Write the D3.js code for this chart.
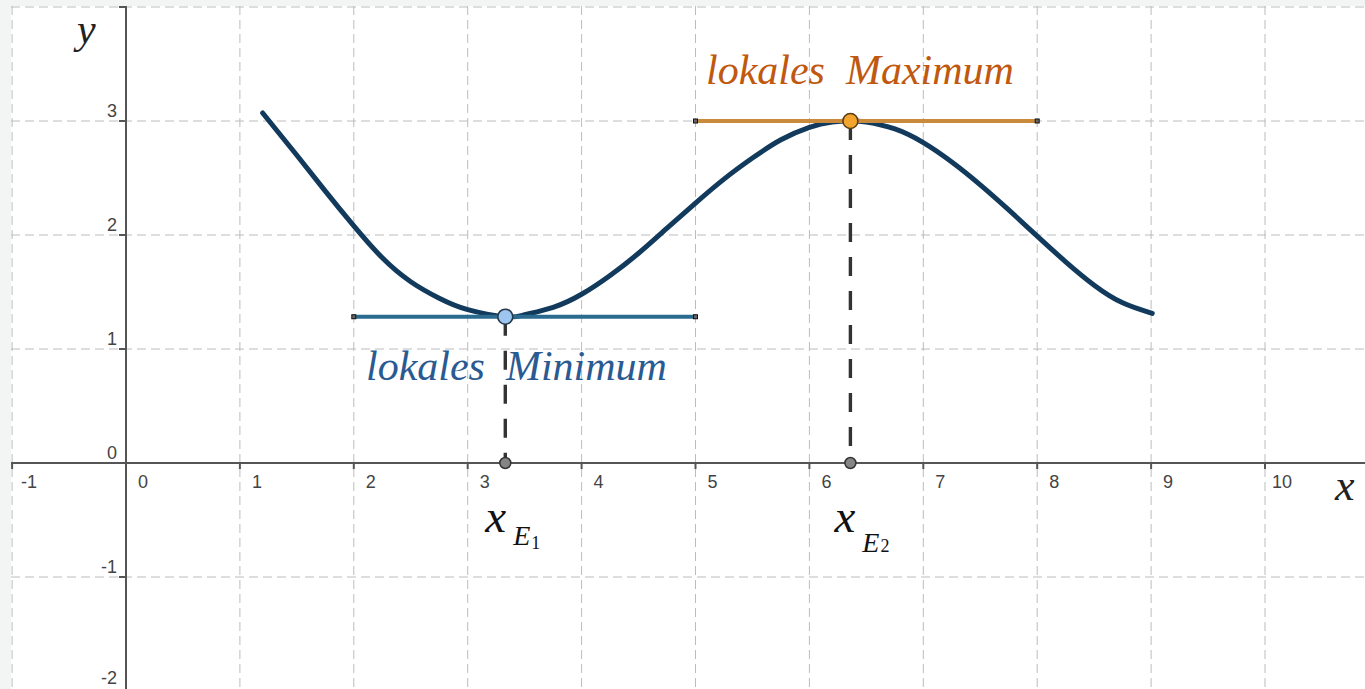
<!DOCTYPE html>
<html>
<head>
<meta charset="utf-8">
<script src="https://cdn.jsdelivr.net/npm/d3@7"></script>
<style>
  html, body { margin: 0; padding: 0; background: #f3f5f5; }
  svg { display: block; }
  .tick-label { font-family: "Liberation Sans Narrow", "Liberation Sans", Arial, sans-serif; font-size: 18px; fill: #444; }
  .math { font-family: "Liberation Serif", "Times New Roman", serif; font-style: italic; }
</style>
</head>
<body>
<div id="chart"></div>
<script>
const width = 1365;
const height = 689;

// tick values / labels
const xTicks = [-1, 0, 1, 2, 3, 4, 5, 6, 7, 8, 9, 10];
const yTicks = [-2, -1, 0, 1, 2, 3];
const xGrid = [-1, 0, 1, 2, 3, 4, 5, 6, 7, 8, 9, 10, 11];
const yGrid = [-2, -1, 0, 1, 2, 3, 4];

// function graph
const curveX = [1.2, 1.5, 1.75, 2.0, 2.25, 2.5, 2.75, 3.0, 3.33, 3.5, 3.75, 4.0, 4.25, 4.5, 4.75, 5.0, 5.25, 5.5, 5.75, 6.0, 6.2, 6.36,
                6.5, 6.75, 7.0, 7.25, 7.5, 7.75, 8.0, 8.25, 8.5, 8.75, 9.01];
const curveY = [3.07, 2.70, 2.385, 2.08, 1.80, 1.59, 1.445, 1.345, 1.283, 1.30, 1.365, 1.48, 1.645, 1.84, 2.06, 2.28, 2.49, 2.675, 2.835, 2.945, 2.99, 3.0,
                2.99, 2.93, 2.81, 2.64, 2.44, 2.22, 1.99, 1.765, 1.56, 1.405, 1.313];

// extrema and their tangents
const extremaX = [3.33, 6.36];
const extremaY = [1.283, 3.0];
const tangentFrom = [2, 5];
const tangentTo = [5, 8];
const extremaNames = ["lokales  Minimum", "lokales  Maximum"];

const x = d3.scaleLinear().domain([0, 10]).range([126, 1265]);
const y = d3.scaleLinear().domain([0, 3]).range([463, 121]);

const svg = d3.select("#chart")
    .append("svg")
    .attr("width", width)
    .attr("height", height);

// Zeichenfläche
svg.append("rect")
    .attr("x", 11).attr("y", 6)
    .attr("width", width - 11).attr("height", height - 6)
    .attr("fill", "#ffffff");

// Gitter
const grid = svg.append("g");
grid.selectAll(".gx")
    .data(xGrid)
    .join("line")
    .attr("x1", d => x(d)).attr("x2", d => x(d))
    .attr("y1", 6).attr("y2", height)
    .attr("stroke", "#bcbcbc").attr("stroke-width", 1)
    .attr("stroke-dasharray", "9,5");
grid.selectAll(".gy")
    .data(yGrid)
    .join("line")
    .attr("y1", d => y(d)).attr("y2", d => y(d))
    .attr("x1", 11).attr("x2", width)
    .attr("stroke", "#bcbcbc").attr("stroke-width", 1)
    .attr("stroke-dasharray", "9,5");

// Achsen
const axes = svg.append("g");
axes.append("line")
    .attr("x1", 11).attr("x2", width)
    .attr("y1", y(0)).attr("y2", y(0))
    .attr("stroke", "#555").attr("stroke-width", 2);
axes.append("line")
    .attr("x1", x(0)).attr("x2", x(0))
    .attr("y1", 6).attr("y2", height)
    .attr("stroke", "#555").attr("stroke-width", 2);

axes.selectAll(".xt")
    .data(xTicks)
    .join("line")
    .attr("x1", d => x(d)).attr("x2", d => x(d))
    .attr("y1", y(0)).attr("y2", y(0) + 6)
    .attr("stroke", "#555").attr("stroke-width", 2);
axes.selectAll(".yt")
    .data(yTicks.concat([4]))
    .join("line")
    .attr("x1", x(0) - 7).attr("x2", x(0))
    .attr("y1", d => y(d)).attr("y2", d => y(d))
    .attr("stroke", "#555").attr("stroke-width", 2);

axes.selectAll(".xl")
    .data(xTicks)
    .join("text")
    .attr("class", "tick-label")
    .attr("x", d => x(d) + 17)
    .attr("y", y(0) + 25)
    .attr("text-anchor", "middle")
    .text(d => d);
axes.selectAll(".yl")
    .data(yTicks)
    .join("text")
    .attr("class", "tick-label")
    .attr("x", x(0) - 9)
    .attr("y", d => Math.min(y(d) - 4, height - 5))
    .attr("text-anchor", "end")
    .text(d => d);

svg.append("text").attr("class", "math")
    .attr("x", 77).attr("y", 43)
    .attr("font-size", 42).attr("fill", "#222")
    .text("y");
svg.append("text").attr("class", "math")
    .attr("x", 1335).attr("y", 500)
    .attr("font-size", 44).attr("fill", "#222")
    .text("x");

// Lotlinien zur x-Achse
svg.selectAll(".drop")
    .data(extremaX)
    .join("line")
    .attr("x1", d => x(d)).attr("x2", d => x(d))
    .attr("y1", (d, i) => y(extremaY[i])).attr("y2", y(0))
    .attr("stroke", "#333").attr("stroke-width", 3.4)
    .attr("stroke-dasharray", "19,15");

// Graph
const pts = curveX.map((d, i) => [d, curveY[i]]);
const line = d3.line()
    .x(d => x(d[0]))
    .y(d => y(d[1]))
    .curve(d3.curveNatural);

svg.append("path")
    .datum(pts)
    .attr("d", line)
    .attr("fill", "none")
    .attr("stroke", "#123a5c")
    .attr("stroke-width", 5)
    .attr("stroke-linecap", "round");

// Tangenten
const tangentColors = ["#2c6b90", "#c98a3c"];
svg.selectAll(".tan")
    .data(extremaY)
    .join("line")
    .attr("x1", (d, i) => x(tangentFrom[i])).attr("x2", (d, i) => x(tangentTo[i]))
    .attr("y1", d => y(d)).attr("y2", d => y(d))
    .attr("stroke", (d, i) => tangentColors[i])
    .attr("stroke-width", 4);

const ends = [];
extremaY.forEach((d, i) => {
    ends.push([tangentFrom[i], d]);
    ends.push([tangentTo[i], d]);
});
svg.selectAll(".end")
    .data(ends)
    .join("rect")
    .attr("x", d => x(d[0]) - 2).attr("y", d => y(d[1]) - 2)
    .attr("width", 4).attr("height", 4)
    .attr("fill", "#666").attr("stroke", "#111").attr("stroke-width", 1);

// Punkte auf der x-Achse
svg.selectAll(".foot")
    .data(extremaX)
    .join("circle")
    .attr("cx", d => x(d)).attr("cy", y(0))
    .attr("r", 5.5)
    .attr("fill", "#858585").attr("stroke", "#333").attr("stroke-width", 1.5);

// Extrempunkte
const pointFill = ["#9cc6ef", "#f2a52e"];
const pointStroke = ["#27384a", "#5a3d12"];
svg.selectAll(".ext")
    .data(extremaX)
    .join("circle")
    .attr("cx", d => x(d)).attr("cy", (d, i) => y(extremaY[i]))
    .attr("r", 7.5)
    .attr("fill", (d, i) => pointFill[i])
    .attr("stroke", (d, i) => pointStroke[i])
    .attr("stroke-width", 1.6);

// Beschriftungen
svg.append("text").attr("class", "math")
    .attr("x", 366).attr("y", 380)
    .attr("font-size", 42).attr("fill", "#2a5a92")
    .style("white-space", "pre")
    .text(extremaNames[0]);
svg.append("text").attr("class", "math")
    .attr("x", 706).attr("y", 84)
    .attr("font-size", 42).attr("fill", "#c0580f")
    .style("white-space", "pre")
    .text(extremaNames[1]);

// x_E1, x_E2
const subs = ["1", "2"];
const labelShift = [-20, -16];
const subDy = [13, 20];
extremaX.forEach((d, i) => {
    const t = svg.append("text").attr("class", "math")
        .attr("x", x(d) + labelShift[i]).attr("y", 532)
        .attr("fill", "#111");
    t.append("tspan").attr("font-size", 47).text("x");
    t.append("tspan").attr("font-size", 28).attr("dx", 7).attr("dy", subDy[i]).text("E");
    t.append("tspan").attr("font-size", 18).attr("dx", 1).attr("dy", i === 0 ? 4 : 0)
        .style("font-style", "normal").text(subs[i]);
});
</script>
</body>
</html>
